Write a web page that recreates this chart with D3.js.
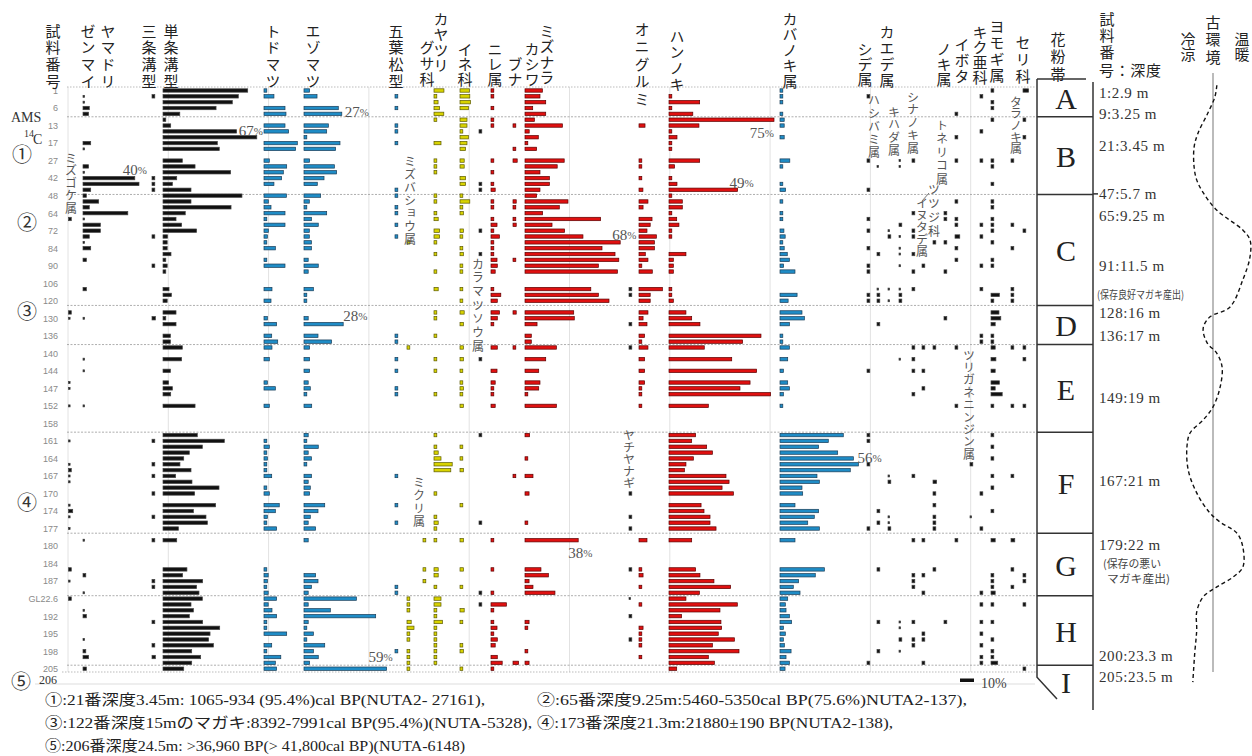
<!DOCTYPE html>
<html>
<head>
<meta charset="utf-8">
<script src="https://cdn.jsdelivr.net/npm/d3@7"></script>
<style>
body { margin: 0; background: #fff; }
text { font-family: "Liberation Serif", "Noto Sans CJK JP", serif; }
.vt { writing-mode: vertical-rl; text-orientation: upright; font-family: "Noto Sans CJK JP", sans-serif; }
</style>
</head>
<body>
<script>

// sample tick labels, one every 3 rows (row = slot index 0..99)
var sampleTicks = ["1","6","13","17","27","42","48","64","72","84","90","106","120","130","136","140","144","147","152","158","161","164","167","170","174","177","180","184","187","GL22.6","192","195","198","205"]

// pollen values [row, %]
var mizugoke = [[22,1],[38,1],[39,0.5],[50,0.5],[51,0.5],[54,0.5],[60,0.5],[64,0.5],[65,2],[66,0.5],[67,0.5],[71,0.5],[72,3],[73,0.5],[75,0.5],[82,1.5],[84,0.5],[87,1]]
var zenmai = [[1,0.5],[2,0.5],[3,4.5],[4,4],[9,5.5],[10,0.5],[13,4],[14,0.5],[15,37],[16,40],[17,5.5],[18,2.4],[19,11.2],[20,4.5],[21,32],[22,0.5],[23,12.4],[24,12.4],[25,4.5],[26,0.5],[27,5.5],[29,2.4],[34,2.4],[39,0.5],[46,0.5],[48,0.5],[54,0.5],[77,0.5],[83,1.5],[86,0.5],[89,0.5],[90,2.4],[94,0.5],[96,1.5],[97,4],[99,2.4]]
var sanjo = [[1,1],[15,1],[16,1],[17,1],[25,1],[30,1],[39,2.4],[60,1],[64,1],[66,1],[69,1],[73,1],[77,1],[84,1],[85,1],[91,1],[95,1],[97,2.4]]
var tanjo = [[0,60.5],[1,53.8],[2,49.5],[3,37.9],[4,12],[5,1],[6,5.5],[7,52.6],[8,67],[9,38.8],[10,40.2],[12,13.8],[13,22.9],[14,48.3],[15,9.8],[16,6.7],[17,20],[18,56.4],[19,20],[20,48.6],[21,15.9],[22,9.3],[23,13.3],[24,24],[25,3.3],[26,3],[27,3],[28,5.7],[29,1.5],[30,3],[31,1],[34,4.3],[35,6],[36,3],[38,9.3],[39,2],[40,9.3],[42,5.3],[43,5.3],[44,13.8],[46,13.3],[48,5.3],[50,4],[51,6.7],[52,5.5],[54,22.9],[59,24.5],[60,43.8],[61,28.1],[62,18.8],[63,14.8],[64,12.1],[65,20],[66,9],[67,20.7],[68,40],[69,22.6],[71,37.6],[72,21.7],[73,30.7],[74,31.7],[75,11],[77,9.8],[82,17.1],[83,14],[84,28.3],[85,24],[86,25.7],[87,28.1],[88,20],[89,21.7],[90,18.8],[91,28.3],[92,40.5],[93,33.6],[94,32.6],[95,36],[96,20.5],[97,26.9],[98,20.5],[99,14.8]]
var todo = [[0,2],[1,7.1],[3,15],[4,15.7],[6,15],[7,17.6],[9,23.8],[10,22.6],[12,3.8],[13,16.2],[14,13.8],[15,12.6],[16,7.1],[18,16],[19,3.1],[20,5],[21,15],[22,2],[23,15],[24,3.1],[25,2.4],[26,2],[27,8.1],[29,2],[30,15],[34,5.7],[36,5],[39,2.4],[40,9],[42,5.5],[43,9.8],[44,5.7],[46,3.8],[50,2.4],[51,8.1],[54,3.8],[60,1.5],[61,3.8],[62,2],[63,2.4],[64,1.5],[65,2],[66,5.5],[68,2],[69,3.8],[71,10.9],[72,8.1],[73,2.4],[74,2],[75,9],[82,1.5],[83,3],[84,2.4],[85,1.5],[86,3],[87,9],[88,3],[89,5.7],[90,9],[91,1.5],[92,2],[93,16.2],[95,5.5],[96,1.5],[97,12],[98,8.1],[99,9]]
var ezo = [[0,4],[1,9.3],[3,24.5],[4,27],[6,17.4],[7,16.2],[8,1.5],[9,25.7],[10,22.6],[12,4],[13,21.7],[14,23.3],[15,14.3],[16,9.5],[18,11.9],[19,3.8],[20,1.5],[21,16.2],[22,5.3],[23,10.2],[24,3.8],[25,3.8],[26,5.3],[27,5.3],[29,3],[30,10.2],[31,3],[34,6.7],[35,1.5],[36,1.5],[39,3],[40,28],[42,10],[43,19.7],[44,4],[46,4],[48,4],[50,3],[51,4.5],[52,1.5],[54,5.5],[59,3],[60,1.5],[61,10.2],[62,3],[63,5.3],[64,1.5],[66,5.3],[67,3],[68,4.5],[69,4],[71,14.8],[72,10],[73,4.5],[74,3],[75,8.3],[77,3],[83,8.3],[84,10],[85,5.3],[86,3],[87,37.4],[88,3],[89,18.8],[90,51.2],[91,3],[92,1.5],[93,6.7],[94,1.5],[95,14.8],[96,6.7],[97,10.2],[98,4],[99,59]]
var goyo = [[1,1],[3,1],[6,1],[7,1.5],[9,1],[17,1],[18,1],[20,1.5],[21,1],[23,1],[25,1],[42,1],[43,1.5],[46,1],[48,1],[51,1],[52,1],[66,1],[71,1],[74,1],[85,1],[86,1],[96,1]]
var mizubasho = [[26,1],[44,1],[87,1],[88,1],[89,1],[91,3],[92,5],[93,1],[94,1],[96,1],[97,1],[98,1.5],[99,1]]
var mikuri = [[77,1],[82,1],[84,1.5]]
var kayatsuri = [[0,7.1],[1,1],[2,2.9],[3,4],[4,7],[5,2],[9,5],[12,1],[13,1],[14,1],[18,1],[19,1],[21,1],[22,3],[24,4],[25,4],[26,1],[28,1],[31,1],[34,3],[38,1],[39,1],[42,1],[46,1],[48,1],[52,1],[59,1],[61,1],[62,3],[63,5],[64,13],[65,12],[69,1],[73,1],[74,3],[75,1],[77,1],[82,3],[83,3],[85,1],[87,5],[88,5],[89,1],[90,1],[91,6],[92,1],[93,1],[94,1],[95,1],[96,1],[97,1],[98,1]]
var ine = [[0,6.7],[1,7],[2,7.5],[3,6],[5,5],[6,5],[7,1.5],[8,6],[9,5],[10,4],[12,3],[13,3],[15,4],[16,4],[18,1],[19,7],[20,1],[21,2.4],[24,2.4],[25,1],[27,1],[28,2.4],[30,1],[31,1],[34,1],[36,1],[38,3],[40,2.4],[44,2.4],[46,2.4],[48,1],[50,1],[51,2.4],[52,1],[54,2.4],[61,1],[63,1],[65,2.4],[71,1],[77,2.4],[82,2.4],[85,1],[89,3],[91,1],[95,1],[96,2.4],[99,1]]
var karamatsu = [[7,1],[16,1],[17,1.5],[24,1],[28,1],[46,1],[59,1],[74,1],[86,1],[88,1]]
var nire = [[0,1],[1,1],[3,1],[5,1],[6,2],[12,1],[14,1],[16,1],[17,3],[19,1],[20,1],[22,1],[23,4.3],[24,1],[25,6],[26,1],[27,1],[28,1],[29,4.3],[30,4.5],[31,3],[34,1],[35,7],[36,4.5],[38,6],[39,4.5],[40,1],[44,4.5],[48,4.3],[50,3],[51,1],[52,1],[54,3],[77,1],[82,1],[86,1],[88,11],[89,1],[91,1],[92,4.3],[93,1],[94,4.5],[95,3],[97,4.5],[98,8],[99,1]]
var buna = [[6,1],[10,1],[12,3],[19,2.3],[20,1],[22,1],[23,2.3],[29,1],[38,2.3],[44,1],[66,1],[98,4]]
var mizunara = [[0,12.4],[1,10.7],[2,14.8],[3,5.5],[4,14.8],[5,6.7],[6,26.7],[7,3],[8,9.5],[9,1],[10,8.3],[12,28],[13,23],[14,10.7],[15,17.4],[16,17.4],[17,10.7],[18,8.3],[19,30.7],[20,24.5],[21,12.6],[22,54],[23,19.3],[24,28.3],[25,41.4],[26,68],[27,55],[28,64.3],[29,67],[30,52.4],[31,66],[34,47],[35,52.4],[36,60],[38,34.8],[39,35.2],[40,8.6],[42,4.5],[43,4.5],[44,22.4],[46,14.8],[48,9.8],[50,10.7],[51,9.8],[52,1.5],[54,22.4],[59,3.3],[63,1.5],[66,5.7],[69,2.9],[74,1.5],[77,38],[82,11.4],[83,16.7],[84,2.9],[85,5.7],[86,21.4],[91,2.9],[92,1.5],[96,1.5],[98,2.9]]
var yachi = [[34,1],[35,1],[40,1],[44,1],[69,1],[73,1],[75,1],[82,1],[87,0.5],[90,1],[94,1]]
var onigurumi = [[6,4.3],[12,1],[13,1],[15,1],[17,2.8],[19,6.4],[20,2.9],[22,9.3],[23,8],[24,5.7],[25,12.4],[26,11],[27,11],[28,4.5],[29,6.4],[30,1.5],[31,9.5],[34,16.7],[35,8],[36,8],[38,6.4],[39,2.9],[40,5.7],[42,4],[43,1],[44,6.4],[46,4],[48,4],[50,4],[51,1],[52,1],[54,1],[77,5.7],[82,1],[83,2.9],[85,1],[88,1],[92,2.9],[93,1],[94,1],[95,1],[97,1]]
var hannoki = [[1,1],[2,21.9],[3,1],[4,17],[5,75],[6,21.4],[7,1],[8,5.7],[9,1],[10,1],[12,21.9],[13,4],[15,1],[16,5.7],[17,49],[18,1],[19,9.5],[20,9.5],[21,1],[22,5.5],[23,7.1],[24,1],[25,1],[28,12.1],[29,3.1],[30,3.1],[31,3.1],[34,1],[35,1],[36,3.1],[38,12.1],[39,16.2],[40,22.1],[42,65.7],[43,52.6],[44,25.2],[46,44.8],[48,62.6],[50,57.9],[51,50.7],[52,72.6],[54,28.1],[59,19],[60,16.2],[61,26.9],[62,31],[63,17.4],[64,12.1],[65,11],[66,40.7],[67,42.9],[68,37.9],[69,46],[71,22.9],[72,25],[73,29.3],[74,29.3],[75,33.6],[77,16.2],[82,19],[83,22.1],[84,32.1],[85,44],[86,21.7],[87,12.1],[88,48.8],[89,36.4],[90,9],[91,37.1],[92,37.6],[93,35.2],[94,46.7],[95,31],[96,50],[97,28.1],[98,32.4],[99,5.5]]
var kaba = [[0,1],[1,1],[2,1],[4,1],[5,3],[6,3],[8,3],[12,7],[13,1],[16,1],[17,4],[19,1],[21,1],[22,1],[24,2.8],[25,3.7],[26,1],[27,3],[28,5.2],[29,6.7],[30,2.6],[31,10.7],[35,12.2],[36,5.8],[38,15.7],[39,17.4],[40,6.7],[42,1],[43,1],[44,6.7],[46,5.5],[48,2.4],[50,5.5],[51,6.7],[52,2.4],[54,1],[59,45.2],[60,34.5],[61,27.6],[62,41.2],[63,52.4],[64,56],[65,50.2],[66,26.4],[67,28.1],[68,15.7],[69,16.2],[71,10.7],[72,27.6],[73,24.5],[74,19.8],[75,28.1],[77,10.7],[82,31.7],[83,25.2],[84,13.3],[85,9.5],[86,14.3],[87,5.5],[88,3.8],[89,4.3],[90,6.7],[91,8.3],[92,2.4],[93,3.8],[94,2.4],[95,3.1],[96,7.9],[97,4.3],[98,6.7],[99,3.6]]
var shide = [[1,1],[12,1],[17,1],[22,1],[24,1],[27,1],[30,1],[31,1],[35,1],[36,1],[48,1],[59,1],[60,1],[64,1],[75,1],[98,1]]
var hashibami = [[13,0.5],[28,1],[34,0.5],[35,1],[36,2],[40,1],[72,1.5],[74,2],[82,1],[91,1],[96,1]]
var kaede = [[24,0.5],[25,1],[34,0.5],[36,0.5],[66,0.5],[67,1],[73,0.5],[74,0.5],[75,1]]
var kihada = [[12,0.5],[13,0.5],[23,2],[25,0.5],[27,0.5],[28,0.5],[30,0.5],[34,0.5],[35,1],[36,1],[46,0.5],[91,0.5],[92,0.5],[94,1],[96,0.5]]
var shinanoki = [[12,1],[21,1],[24,1],[25,1],[28,1],[31,1],[34,1],[44,1],[46,1],[48,1],[52,1],[66,1],[77,1],[83,1],[84,2],[85,1],[91,1],[94,1],[95,1]]
var inutade = [[30,1],[44,1],[48,1],[51,1],[77,1],[83,1],[86,1],[93,1],[94,1],[98,1]]
var tsutsuji = [[26,1],[44,1],[67,2.6],[69,1],[71,1],[73,2],[74,2],[75,1],[82,2]]
var ibota = [[21,1],[22,1],[26,1],[31,1],[39,1],[91,1]]
var toneriko = [[4,1],[8,1],[12,1],[19,1],[22,1],[23,1],[25,3.4],[27,1],[29,1],[44,1],[54,1],[77,1]]
var tsurigane = [[64,1],[73,0.5]]
var kiku = [[1,1],[7,1],[12,1],[23,1],[25,1],[30,1],[34,1],[42,1],[43,1],[69,1],[75,1],[86,1],[88,1],[91,2],[93,1],[95,1],[97,1],[98,1]]
var yomogi = [[0,1],[2,2],[3,1],[5,1],[12,1],[13,1],[16,1],[19,1],[20,1],[22,1],[23,1],[24,1],[26,1],[29,1],[30,1],[35,6],[36,1],[38,5.7],[39,7],[40,3],[42,1],[43,1],[44,3],[46,3.5],[48,3],[50,6],[51,3],[52,8],[54,1],[59,1],[61,1],[63,1],[66,1],[68,1],[72,1],[77,3],[83,1],[84,1],[85,1],[86,3],[88,1],[91,1],[94,1],[96,1],[97,1],[98,4.8]]
var taranoki = [[12,1],[23,1],[27,1],[34,2],[35,1],[36,1],[44,1],[54,2],[66,1],[77,2.7],[82,2],[85,1]]
var seri = [[0,4],[5,2],[8,1],[24,1.6],[44,1],[46,1],[54,1],[83,1],[84,1],[88,1],[99,1]]

// pollen zones (boundaries in rows)
var zoneNames = ["A","B","C","D","E","F","G","H","I"]
var zoneBounds = [4.5, 17.8, 36.8, 43.5, 58.5, 75.8, 86.5, 98.4]

// sample : depth labels, placed at row
var depthLabels = [["1:2.9 m",0.4],["9:3.25 m",4],["21:3.45 m",9.5],["47:5.7 m",17.7],["65:9.25 m",21.5],["91:11.5 m",30],["128:16 m",38.1],["136:17 m",42],["149:19 m",52.7],["167:21 m",66.9],["179:22 m",77.8],["200:23.3 m",96.8],["205:23.5 m",100.4]]

// paleo-environment curve [row, warmth 0=cool 1=warm]
var paleo = [[-0.9,0.49],[1.1,0.46],[3.9,0.35],[7.3,0.2],[9.7,0.14],[13.1,0.14],[15.3,0.18],[17.5,0.28],[20.5,0.49],[23.9,0.89],[25.6,1],[28.5,1],[32.4,0.89],[37.1,0.69],[38.8,0.38],[40.7,0.28],[43.2,0.34],[45,0.49],[47.3,0.57],[50.8,0.54],[54.2,0.43],[56.4,0.28],[58.6,0.08],[61,0.03],[65,0.05],[68.9,0.18],[72.3,0.38],[73.9,0.54],[75.8,0.8],[78.2,0.89],[81.6,0.89],[83.3,0.74],[85,0.49],[86.7,0.28],[89.3,0.18],[92.4,0.18],[96.3,0.15],[101.3,0.12]]

var styles = {
	black: {fill: "#111", stroke: "#444"},
	blue: {fill: "#1f8cc6", stroke: "#1b3d57"},
	yellow: {fill: "#d8d300", stroke: "#5c5a00"},
	red: {fill: "#e01010", stroke: "#5a0000"}
}

var columns = [
	{data: mizugoke, x: 68.5, s: "black"},
	{data: zenmai, x: 83, s: "black"},
	{data: sanjo, x: 152, s: "black"},
	{data: tanjo, x: 163, s: "black"},
	{data: todo, x: 264, s: "blue"},
	{data: ezo, x: 304, s: "blue"},
	{data: goyo, x: 395, s: "blue"},
	{data: mizubasho, x: 407, s: "yellow"},
	{data: mikuri, x: 423, s: "yellow"},
	{data: kayatsuri, x: 434, s: "yellow"},
	{data: ine, x: 460, s: "yellow"},
	{data: karamatsu, x: 479, s: "black"},
	{data: nire, x: 491, s: "red"},
	{data: buna, x: 513, s: "red"},
	{data: mizunara, x: 525, s: "red"},
	{data: yachi, x: 629, s: "black"},
	{data: onigurumi, x: 639, s: "red"},
	{data: hannoki, x: 669, s: "red"},
	{data: kaba, x: 780, s: "blue"},
	{data: shide, x: 867, s: "black"},
	{data: hashibami, x: 877, s: "black"},
	{data: kaede, x: 888, s: "black"},
	{data: kihada, x: 899, s: "black"},
	{data: shinanoki, x: 912, s: "black"},
	{data: inutade, x: 922, s: "black"},
	{data: tsutsuji, x: 933, s: "black"},
	{data: ibota, x: 944, s: "black"},
	{data: toneriko, x: 955, s: "black"},
	{data: tsurigane, x: 970, s: "black"},
	{data: kiku, x: 980, s: "black"},
	{data: yomogi, x: 991, s: "black"},
	{data: taranoki, x: 1011, s: "black"},
	{data: seri, x: 1023, s: "black"}
]

var svg = d3.select("body").append("svg")
	.attr("width", 1252)
	.attr("height", 756)

var y = d3.scaleLinear().domain([0, 99]).range([90.5, 668.7])
var pct = d3.scaleLinear().domain([0, 100]).range([0, 140])
var warm = d3.scaleLinear().domain([0, 1]).range([1185, 1250])

// grid
svg.selectAll(".vgrid")
	.data(d3.range(10))
	.enter().append("line")
	.attr("x1", function(d) {return 68 + d * 100.3})
	.attr("x2", function(d) {return 68 + d * 100.3})
	.attr("y1", 87).attr("y2", 672)
	.attr("stroke", "#e2e2e2").attr("stroke-width", 1)

svg.append("line").attr("x1", 67).attr("x2", 1036).attr("y1", 87).attr("y2", 87)
	.attr("stroke", "#bbb").attr("stroke-dasharray", "1.5,1.5")
svg.append("line").attr("x1", 62).attr("x2", 1036).attr("y1", 672).attr("y2", 672)
	.attr("stroke", "#bbb").attr("stroke-dasharray", "1.5,1.5")
svg.append("line").attr("x1", 35).attr("x2", 1035).attr("y1", 684).attr("y2", 684)
	.attr("stroke", "#eee").attr("stroke-width", 2)

svg.selectAll(".zline")
	.data(zoneBounds)
	.enter().append("line")
	.attr("x1", 67).attr("x2", 1037)
	.attr("y1", function(d) {return y(d)}).attr("y2", function(d) {return y(d)})
	.attr("stroke", "#999").attr("stroke-width", 0.8).attr("stroke-dasharray", "2,1.5")

// bars
function barW(v) { return v < 1 ? 1.6 : Math.max(pct(v), 2.8) }
function barH(v) { return v < 1 ? 2 : 3.4 }

columns.forEach(function(c) {
	svg.append("g").selectAll("rect")
		.data(c.data)
		.enter().append("rect")
		.attr("x", c.x)
		.attr("y", function(d) {return y(d[0]) - barH(d[1]) / 2})
		.attr("width", function(d) {return barW(d[1])})
		.attr("height", function(d) {return barH(d[1])})
		.attr("fill", styles[c.s].fill)
		.attr("stroke", styles[c.s].stroke)
		.attr("stroke-width", 0.7)
})

// percent labels at the peaks [data, column x, row, dx, dy, anchor]
var peaks = [[ezo, 304, 4, 3, -2, "start"], [tanjo, 163, 8, 6, -6, "end"], [zenmai, 83, 16, 8, -14, "end"],
	[ezo, 304, 40, 0, -8, "start"], [ezo, 304, 99, 6, -12, "end"], [hannoki, 669, 5, 0, 13, "end"],
	[hannoki, 669, 17, -8, -7, "start"], [mizunara, 525, 26, -8, -7, "start"],
	[mizunara, 525, 77, -10, 13, "start"], [kaba, 780, 64, -1, -6, "start"]]
peaks.forEach(function(p) {
	var v = p[0].filter(function(d) {return d[0] == p[2]})[0][1]
	var t = svg.append("text")
		.attr("x", p[1] + pct(v) + p[3])
		.attr("y", y(p[2]) + p[4])
		.attr("dominant-baseline", "central")
		.attr("text-anchor", p[5])
		.attr("font-size", 15).attr("fill", "#555")
	t.append("tspan").text(Math.round(v))
	t.append("tspan").attr("font-size", 11).text("%")
})

// sample axis
var axis = d3.axisLeft(y)
	.tickValues(d3.range(0, 100, 3))
	.tickFormat(function(d, i) {return sampleTicks[i]})
	.tickSize(0).tickPadding(0)
svg.append("g").attr("transform", "translate(58,0)").call(axis)
	.call(function(g) {g.select(".domain").remove()})
	.selectAll("text").attr("fill", "#8a8a8a")
	.style("font-family", "'Liberation Sans', sans-serif").style("font-size", "9px")
svg.append("text").attr("x", 57).attr("y", 680).attr("text-anchor", "end").attr("dominant-baseline", "central")
	.attr("font-size", 12).attr("fill", "#333").text("206")

// vertical (tategaki) text: x = column centre, y0 = centre of first character
function vtext(t, x, y0, step, size, color) {
	svg.append("text")
		.attr("class", "vt")
		.attr("x", x).attr("y", y0 - size / 2)
		.attr("font-size", size).attr("fill", color)
		.attr("letter-spacing", step - size)
		.text(t)
}

var headers = [
	["試料番号", 53, 31, 16.7], ["ゼンマイ", 88, 31, 16.7], ["ヤマドリ", 108, 31, 16.7],
	["三条溝型", 149, 31, 16.7], ["単条溝型", 171, 31, 16.7], ["トドマツ", 273, 31, 16.7],
	["エゾマツ", 313, 31, 16.7], ["五葉松型", 396, 31, 16.7], ["カヤツリ", 441, 19, 15.5],
	["グサ科", 427, 47, 16], ["イネ科", 465, 49, 15], ["ニレ属", 495, 49, 15], ["ブナ", 515, 64, 15],
	["カシワ", 532, 49, 15], ["ミズナラ", 547, 31, 15.5], ["オニグルミ", 642, 29, 17.5],
	["ハンノキ", 677, 36, 16], ["カバノキ属", 790, 19, 15.5], ["シデ属", 865, 49, 15],
	["カエデ属", 887, 32, 16], ["ノキ属", 944, 49, 15], ["イボタ", 962, 44, 16],
	["キク亜科", 980, 32, 15], ["ヨモギ属", 997, 26, 16.5], ["セリ科", 1023, 42, 17],
	["花粉帯", 1058, 39, 17.5], ["試料番", 1107, 19, 16.5], ["冷涼", 1188, 39, 15],
	["古環境", 1213, 22, 17.5], ["温暖", 1242, 39, 15]
]
headers.forEach(function(h) {vtext(h[0], h[1], h[2], h[3], 15, "#222")})
svg.append("text").attr("x", 1099).attr("y", 69).attr("dominant-baseline", "central")
	.attr("font-size", 15).attr("fill", "#222").attr("textLength", 62)
	.style("font-family", "'Noto Sans CJK JP', sans-serif").text("号：深度")

var inline = [
	["ミズゴケ属", 71, 158, 12.5], ["ミズバショウ属", 410, 161, 13], ["カラマツソウ属", 478, 264, 13.7],
	["ミクリ属", 419, 482, 13.3], ["ヤチヤナギ", 629, 435, 12.2], ["ハシバミ属", 874, 100, 13],
	["キハダ属", 894, 112, 12.7], ["シナノキ属", 913, 97, 12.8], ["トネリコ属", 942, 125, 13.5],
	["タラノキ属", 1016, 102, 11.7], ["ツツジ科", 934, 189, 14], ["イヌタデ属", 922, 203, 12],
	["ツリガネニンジン属", 969, 355, 12.4]
]
inline.forEach(function(h) {vtext(h[0], h[1], h[2], h[3], 12, "#555")})
svg.append("line").attr("x1", 929).attr("y1", 193).attr("x2", 922).attr("y2", 201)
	.attr("stroke", "#555").attr("stroke-width", 0.8)

// left annotations
svg.append("text").attr("x", 11).attr("y", 117).attr("dominant-baseline", "central")
	.attr("font-size", 14).attr("fill", "#333").text("AMS")
svg.append("text").attr("x", 24).attr("y", 133).attr("dominant-baseline", "central")
	.attr("font-size", 10).attr("fill", "#333").text("14")
svg.append("text").attr("x", 33).attr("y", 139).attr("dominant-baseline", "central")
	.attr("font-size", 14).attr("fill", "#333").text("C")
var circled = [["①", 22, 153], ["②", 27, 221], ["③", 27, 310], ["④", 27, 501], ["⑤", 21, 680]]
circled.forEach(function(c) {
	svg.append("text").attr("x", c[1]).attr("y", c[2])
		.attr("text-anchor", "middle").attr("dominant-baseline", "central")
		.attr("font-size", 20).attr("fill", "#333")
		.style("font-family", "'Noto Sans CJK JP', sans-serif").text(c[0])
})

// scale bar 10%
svg.append("rect").attr("x", 960).attr("y", 678.5).attr("width", pct(10)).attr("height", 3.5).attr("fill", "#111")
svg.append("text").attr("x", 981).attr("y", 683).attr("dominant-baseline", "central")
	.attr("font-size", 14).attr("fill", "#444").text("10%")

// pollen zone column
var zoneY = [79].concat(zoneBounds.map(function(d) {return y(d)})).concat([697])
var zg = svg.append("g").attr("stroke", "#333").attr("stroke-width", 1.5).attr("fill", "none")
zg.append("line").attr("x1", 1037).attr("x2", 1086).attr("y1", 79).attr("y2", 79)
zg.append("line").attr("x1", 1093).attr("x2", 1093).attr("y1", 82).attr("y2", 710)
zg.append("path").attr("d", "M1037,79 L1037," + (y(zoneBounds[7]) + 12) + " L1057,699")
zoneBounds.forEach(function(b) {
	zg.append("line").attr("x1", 1037).attr("x2", 1093).attr("y1", y(b)).attr("y2", y(b))
})
zg.append("line").attr("x1", 1093).attr("x2", 1098).attr("y1", y(17.7)).attr("y2", y(17.7))
zoneNames.forEach(function(z, i) {
	svg.append("text").attr("x", 1066).attr("y", (zoneY[i] + zoneY[i + 1]) / 2 + 1)
		.attr("text-anchor", "middle").attr("dominant-baseline", "central")
		.attr("font-size", 30).attr("fill", "#222").text(z)
})

depthLabels.forEach(function(d) {
	svg.append("text").attr("x", 1099).attr("y", y(d[1]))
		.attr("dominant-baseline", "central").attr("font-size", 15).attr("letter-spacing", 0.6)
		.attr("fill", "#333").text(d[0])
})
var notes = [["(保存良好マガキ産出)", 1097, 294, 87], ["(保存の悪い", 1103, 563, 58], ["マガキ産出)", 1107, 578, 63]]
notes.forEach(function(n) {
	svg.append("text").attr("x", n[1]).attr("y", n[2]).attr("dominant-baseline", "central")
		.attr("font-size", 11).attr("fill", "#444").attr("textLength", n[3]).attr("lengthAdjust", "spacingAndGlyphs")
		.style("font-family", "'Noto Sans CJK JP', sans-serif").text(n[0])
})

// paleo-environment
svg.append("line").attr("x1", 1213).attr("x2", 1213).attr("y1", 73).attr("y2", 672)
	.attr("stroke", "#bbb").attr("stroke-width", 2)
svg.append("path")
	.datum(paleo)
	.attr("d", d3.line().x(function(d) {return warm(d[1])}).y(function(d) {return y(d[0])}).curve(d3.curveCatmullRom))
	.attr("fill", "none").attr("stroke", "#111").attr("stroke-width", 1.4).attr("stroke-dasharray", "4,3")

// footnotes
var foot = [
	["①:21番深度3.45m: 1065-934 (95.4%)cal BP(NUTA2- 27161),", 45, 700, 440],
	["②:65番深度9.25m:5460-5350cal BP(75.6%)NUTA2-137),", 537, 700, 430],
	["③:122番深度15mのマガキ:8392-7991cal BP(95.4%)(NUTA-5328),", 45, 723, 487],
	["④:173番深度21.3m:21880±190 BP(NUTA2-138),", 537, 723, 356],
	["⑤:206番深度24.5m: >36,960 BP(> 41,800cal BP)(NUTA-6148)", 45, 746, 420]
]
foot.forEach(function(f) {
	svg.append("text").attr("x", f[1]).attr("y", f[2]).attr("dominant-baseline", "central")
		.attr("font-size", 15).attr("fill", "#222")
		.attr("textLength", f[3]).attr("lengthAdjust", "spacingAndGlyphs")
		.text(f[0])
})

</script>
</body>
</html>
